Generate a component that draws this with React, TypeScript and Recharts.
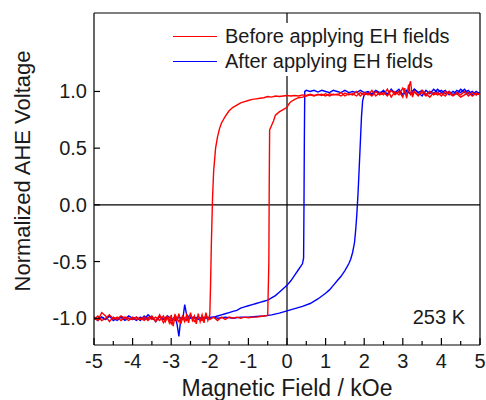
import { LineChart, Line, XAxis, YAxis, ReferenceLine } from "recharts";

const FONT = '"Liberation Sans", Arial, sans-serif';
const TEXT = "#1a1a1a";
const RED = "#ff0000";
const BLUE = "#0000ff";

// branch data, [field kOe, normalized voltage]
const redDown: [number, number][] = [
    [5.0, 0.97], [4.9, 0.985], [4.8, 0.96], [4.7, 0.99], [4.6, 0.97], [4.5, 0.95], [4.4, 0.98], [4.3, 0.965], [4.2, 1.0], [4.1, 0.96],
    [4.0, 0.985], [3.9, 0.97], [3.8, 0.99], [3.7, 0.95], [3.6, 0.98], [3.5, 1.01], [3.4, 0.96], [3.3, 0.995], [3.2, 0.97], [3.15, 1.06],
    [3.1, 0.94], [3.05, 1.03], [3.0, 0.95], [2.9, 1.0], [2.8, 0.97], [2.7, 1.01], [2.6, 0.96], [2.5, 0.99], [2.4, 0.97], [2.3, 1.0],
    [2.2, 0.96], [2.1, 0.985], [2.0, 0.97], [1.9, 0.99], [1.8, 0.96], [1.7, 0.98], [1.6, 0.97], [1.5, 0.985], [1.4, 0.96], [1.3, 0.975],
    [1.2, 0.97], [1.1, 0.98], [1.0, 0.96], [0.9, 0.975], [0.8, 0.97], [0.7, 0.965], [0.6, 0.975], [0.5, 0.965], [0.4, 0.97], [0.3, 0.96],
    [0.2, 0.965], [0.1, 0.96], [0.0, 0.965], [-0.1, 0.96], [-0.2, 0.955], [-0.3, 0.96], [-0.4, 0.95], [-0.5, 0.955], [-0.6, 0.945], [-0.7, 0.94],
    [-0.8, 0.935], [-0.9, 0.93], [-1.0, 0.92], [-1.1, 0.91], [-1.2, 0.9], [-1.3, 0.88], [-1.4, 0.86], [-1.5, 0.83], [-1.6, 0.78], [-1.7, 0.72],
    [-1.75, 0.67], [-1.8, 0.6], [-1.85, 0.5], [-1.9, 0.3], [-1.93, 0.05], [-1.96, -0.35], [-1.98, -0.7], [-2.0, -0.97], [-2.05, -1.02], [-2.1, -0.95],
    [-2.15, -1.04], [-2.2, -0.97], [-2.25, -1.03], [-2.3, -0.96], [-2.35, -1.05], [-2.4, -0.98], [-2.45, -1.02], [-2.5, -0.95], [-2.55, -1.04], [-2.6, -0.97],
    [-2.65, -1.03], [-2.7, -0.99], [-2.75, -1.05], [-2.8, -0.96], [-2.85, -1.02], [-2.9, -0.98], [-2.95, -1.07], [-3.0, -0.97], [-3.05, -1.04], [-3.1, -0.99],
    [-3.15, -1.03], [-3.2, -0.98], [-3.3, -1.02], [-3.4, -0.99], [-3.5, -1.01], [-3.6, -0.99], [-3.7, -1.02], [-3.8, -1.0], [-3.9, -1.01], [-4.0, -0.99],
    [-4.1, -1.02], [-4.2, -1.0], [-4.3, -0.98], [-4.4, -1.01], [-4.5, -0.99], [-4.6, -1.03], [-4.7, -0.98], [-4.8, -0.95], [-4.9, -1.02], [-5.0, -0.99],
];

const redUp: [number, number][] = [
    [-5.0, -1.01], [-4.9, -0.98], [-4.8, -1.02], [-4.7, -1.0], [-4.6, -0.97], [-4.5, -1.01], [-4.4, -0.99], [-4.3, -1.02], [-4.2, -0.99], [-4.1, -1.0],
    [-4.0, -1.01], [-3.9, -0.99], [-3.8, -1.01], [-3.7, -0.99], [-3.6, -1.02], [-3.5, -0.98], [-3.4, -1.03], [-3.3, -0.97], [-3.2, -1.04], [-3.1, -0.98],
    [-3.0, -1.05], [-2.9, -0.97], [-2.8, -1.03], [-2.7, -0.98], [-2.6, -1.02], [-2.5, -0.97], [-2.4, -1.03], [-2.3, -0.99], [-2.2, -1.02], [-2.1, -0.98],
    [-2.0, -1.01], [-1.9, -0.99], [-1.8, -1.02], [-1.7, -0.99], [-1.6, -1.01], [-1.5, -0.99], [-1.4, -1.0], [-1.3, -0.99], [-1.2, -1.0], [-1.1, -0.99],
    [-1.0, -0.995], [-0.9, -0.99], [-0.8, -0.99], [-0.7, -0.985], [-0.6, -0.98], [-0.5, -0.975], [-0.47, -0.5], [-0.46, 0.2], [-0.45, 0.66], [-0.4, 0.7],
    [-0.35, 0.74], [-0.3, 0.79], [-0.2, 0.82], [-0.1, 0.84], [0.0, 0.86], [0.05, 0.89], [0.1, 0.91], [0.2, 0.93], [0.3, 0.945], [0.4, 0.95],
    [0.5, 0.96], [0.6, 0.97], [0.7, 0.96], [0.8, 0.975], [0.9, 0.965], [1.0, 0.98], [1.1, 0.96], [1.2, 0.975], [1.3, 0.97], [1.4, 0.99],
    [1.5, 0.96], [1.6, 0.98], [1.7, 0.97], [1.8, 1.0], [1.9, 0.96], [2.0, 0.99], [2.1, 0.97], [2.2, 1.01], [2.3, 0.96], [2.4, 0.99],
    [2.5, 0.97], [2.6, 1.02], [2.7, 0.95], [2.8, 1.0], [2.9, 0.97], [3.0, 1.03], [3.1, 0.96], [3.2, 1.09], [3.25, 0.95], [3.3, 1.0],
    [3.4, 0.97], [3.5, 0.99], [3.6, 0.96], [3.7, 1.0], [3.8, 0.97], [3.9, 0.99], [4.0, 0.96], [4.1, 1.0], [4.2, 0.98], [4.3, 0.96],
    [4.4, 0.99], [4.5, 0.97], [4.6, 1.0], [4.7, 0.96], [4.8, 0.99], [4.9, 0.97], [5.0, 0.98],
];

const blueUp: [number, number][] = [
    [-5.0, -1.0], [-4.9, -1.02], [-4.8, -0.99], [-4.7, -1.01], [-4.6, -0.98], [-4.5, -1.02], [-4.4, -1.0], [-4.3, -0.99], [-4.2, -1.02], [-4.1, -1.0],
    [-4.0, -1.01], [-3.9, -0.99], [-3.8, -1.02], [-3.7, -0.98], [-3.6, -1.01], [-3.5, -0.99], [-3.4, -1.03], [-3.3, -0.98], [-3.2, -1.01], [-3.1, -1.0],
    [-3.0, -1.02], [-2.9, -0.99], [-2.85, -1.05], [-2.8, -1.16], [-2.75, -1.0], [-2.7, -0.99], [-2.6, -1.01], [-2.5, -0.99], [-2.4, -1.0], [-2.3, -0.99],
    [-2.2, -1.01], [-2.1, -0.99], [-2.0, -1.0], [-1.9, -0.99], [-1.8, -1.0], [-1.6, -0.99], [-1.4, -1.0], [-1.2, -0.99], [-1.0, -0.99], [-0.8, -0.985],
    [-0.6, -0.98], [-0.4, -0.97], [-0.2, -0.955], [0.0, -0.935], [0.2, -0.915], [0.4, -0.895], [0.6, -0.87], [0.8, -0.83], [1.0, -0.78], [1.1, -0.75],
    [1.2, -0.71], [1.3, -0.67], [1.4, -0.63], [1.5, -0.58], [1.6, -0.52], [1.65, -0.48], [1.7, -0.42], [1.75, -0.33], [1.78, -0.22], [1.81, -0.08],
    [1.84, 0.1], [1.87, 0.32], [1.9, 0.55], [1.93, 0.78], [1.96, 0.92], [2.0, 0.97], [2.1, 0.99], [2.2, 0.97], [2.3, 1.0], [2.4, 0.98],
    [2.5, 1.01], [2.6, 0.97], [2.7, 1.02], [2.8, 0.98], [2.9, 1.0], [3.0, 0.97], [3.1, 1.01], [3.2, 0.98], [3.3, 1.02], [3.4, 0.99],
    [3.5, 0.96], [3.6, 1.01], [3.7, 0.98], [3.8, 1.02], [3.9, 0.99], [4.0, 1.01], [4.1, 0.98], [4.2, 1.0], [4.3, 0.97], [4.4, 1.01],
    [4.5, 0.99], [4.6, 1.02], [4.7, 0.98], [4.8, 1.0], [4.9, 0.97], [5.0, 0.99],
];

const blueDown: [number, number][] = [
    [5.0, 0.98], [4.9, 1.0], [4.8, 0.97], [4.7, 1.01], [4.6, 0.99], [4.5, 1.02], [4.4, 0.98], [4.3, 1.0], [4.2, 0.97], [4.1, 1.01],
    [4.0, 0.99], [3.9, 1.02], [3.8, 0.98], [3.7, 1.0], [3.6, 0.97], [3.5, 1.01], [3.4, 0.99], [3.3, 1.02], [3.2, 0.98], [3.1, 1.0],
    [3.0, 0.97], [2.9, 1.02], [2.8, 0.99], [2.7, 1.01], [2.6, 0.98], [2.5, 1.0], [2.4, 0.99], [2.3, 1.01], [2.2, 0.98], [2.1, 1.0],
    [2.0, 0.99], [1.9, 1.01], [1.8, 0.99], [1.7, 1.0], [1.6, 0.99], [1.5, 1.01], [1.4, 0.99], [1.3, 1.0], [1.2, 1.01], [1.1, 0.99],
    [1.0, 1.0], [0.9, 1.01], [0.8, 0.995], [0.7, 1.01], [0.6, 1.0], [0.5, 1.01], [0.46, 1.0], [0.45, 0.6], [0.44, 0.0], [0.43, -0.47],
    [0.4, -0.52], [0.3, -0.57], [0.2, -0.62], [0.1, -0.67], [0.0, -0.71], [-0.1, -0.74], [-0.2, -0.77], [-0.3, -0.8], [-0.4, -0.82], [-0.5, -0.84],
    [-0.6, -0.85], [-0.7, -0.86], [-0.8, -0.87], [-0.9, -0.88], [-1.0, -0.89], [-1.1, -0.9], [-1.2, -0.91], [-1.3, -0.93], [-1.4, -0.94], [-1.5, -0.95],
    [-1.6, -0.96], [-1.7, -0.97], [-1.8, -0.98], [-1.9, -0.99], [-2.0, -0.99], [-2.1, -1.0], [-2.2, -0.99], [-2.3, -1.01], [-2.4, -0.99], [-2.5, -1.0],
    [-2.6, -0.97], [-2.65, -0.88], [-2.7, -1.01], [-2.8, -0.99], [-2.9, -1.02], [-3.0, -1.0], [-3.1, -0.98], [-3.2, -1.01], [-3.3, -0.99], [-3.4, -1.02],
    [-3.5, -1.0], [-3.6, -0.97], [-3.7, -1.01], [-3.8, -0.99], [-3.9, -1.02], [-4.0, -1.0], [-4.1, -0.98], [-4.2, -1.01], [-4.3, -0.99], [-4.4, -1.02],
    [-4.5, -1.0], [-4.6, -0.98], [-4.7, -1.01], [-4.8, -0.99], [-4.9, -1.01], [-5.0, -1.0],
];

const xTicks = [-5, -4.5, -4, -3.5, -3, -2.5, -2, -1.5, -1, -0.5, 0, 0.5, 1, 1.5, 2, 2.5, 3, 3.5, 4, 4.5, 5];
const yTicks = [-1, -0.5, 0, 0.5, 1];
const X_DOMAIN: [number, number] = [-5, 5];
const Y_DOMAIN: [number, number] = [-1.236, 1.692];

const legendItems = [
    { name: "Before applying EH fields", color: RED },
    { name: "After applying EH fields", color: BLUE },
];

const toPoints = (arr: [number, number][]) => arr.map(([x, y]) => ({ x, y }));

const XTick = ({ x, y, payload }: any) => {
    const major = Number.isInteger(payload.value);
    return (
        <g>
            <line x1={x} x2={x} y1={y} y2={y - (major ? 7 : 4)} stroke="#000" strokeWidth={1.2} />
            {major && (
                <text x={x} y={y + 23} textAnchor="middle" fontSize={20} fill={TEXT} fontFamily={FONT}>
                    {payload.value}
                </text>
            )}
        </g>
    );
};

const YTick = ({ x, y, payload }: any) => (
    <g>
        <line x1={x} x2={x + 6} y1={y} y2={y} stroke="#000" strokeWidth={1.2} />
        <text x={x - 7} y={y + 7} textAnchor="end" fontSize={20} fill={TEXT} fontFamily={FONT}>
            {payload.value.toFixed(1)}
        </text>
    </g>
);

export default function App() {
    return (
        <div style={{ position: "fixed", top: 0, left: 0, width: 486, height: 400, background: "#fff" }}>
            <LineChart width={486} height={400} margin={{ top: 13, right: 6, left: 0, bottom: 0 }}>
                <XAxis
                    dataKey="x"
                    type="number"
                    domain={X_DOMAIN}
                    ticks={xTicks}
                    interval={0}
                    allowDataOverflow
                    height={55}
                    tickSize={0}
                    tickMargin={0}
                    tickLine={false}
                    tick={<XTick />}
                    axisLine={{ stroke: "#000", strokeWidth: 1.2 }}
                />
                <YAxis
                    type="number"
                    domain={Y_DOMAIN}
                    ticks={yTicks}
                    interval={0}
                    allowDataOverflow
                    width={94}
                    tickSize={0}
                    tickMargin={0}
                    tickLine={false}
                    tick={<YTick />}
                    axisLine={{ stroke: "#000", strokeWidth: 1.2 }}
                />
                {/* frame top and right */}
                <ReferenceLine y={Y_DOMAIN[1]} stroke="#000" strokeWidth={1.2} />
                <ReferenceLine x={X_DOMAIN[1]} stroke="#000" strokeWidth={1.2} />
                <ReferenceLine y={0} stroke="#000" strokeWidth={1.2} />
                <ReferenceLine x={0} stroke="#000" strokeWidth={1.2} />
                <Line data={toPoints(blueDown)} dataKey="y" stroke={BLUE} strokeWidth={1.4} dot={false} isAnimationActive={false} />
                <Line data={toPoints(blueUp)} dataKey="y" stroke={BLUE} strokeWidth={1.4} dot={false} isAnimationActive={false} />
                <Line data={toPoints(redUp)} dataKey="y" stroke={RED} strokeWidth={1.4} dot={false} isAnimationActive={false} />
                <Line data={toPoints(redDown)} dataKey="y" stroke={RED} strokeWidth={1.4} dot={false} isAnimationActive={false} />
            </LineChart>
            <div
                style={{
                    position: "absolute",
                    top: 23,
                    left: 165,
                    width: 300,
                    background: "#fff",
                    padding: "1px 0 2px 8px",
                    fontFamily: FONT,
                }}
            >
                {legendItems.map((item) => (
                    <div key={item.name} style={{ display: "flex", alignItems: "center", height: 25 }}>
                        <span style={{ width: 44, height: 0, borderTop: `1.5px solid ${item.color}`, display: "inline-block" }} />
                        <span style={{ marginLeft: 8, fontSize: 20, color: TEXT, whiteSpace: "nowrap" }}>{item.name}</span>
                    </div>
                ))}
            </div>
            <svg width={486} height={400} style={{ position: "absolute", top: 0, left: 0, pointerEvents: "none" }}>
                <text
                    transform="translate(30,171) rotate(-90)"
                    textAnchor="middle"
                    fontSize={22}
                    fill={TEXT}
                    fontFamily={FONT}
                >
                    Normalized AHE Voltage
                </text>
                <text x={287} y={396} textAnchor="middle" fontSize={23} fill={TEXT} fontFamily={FONT}>
                    Magnetic Field / kOe
                </text>
                <text x={465} y={324} textAnchor="end" fontSize={20} fill={TEXT} fontFamily={FONT}>
                    253 K
                </text>
            </svg>
        </div>
    );
}
